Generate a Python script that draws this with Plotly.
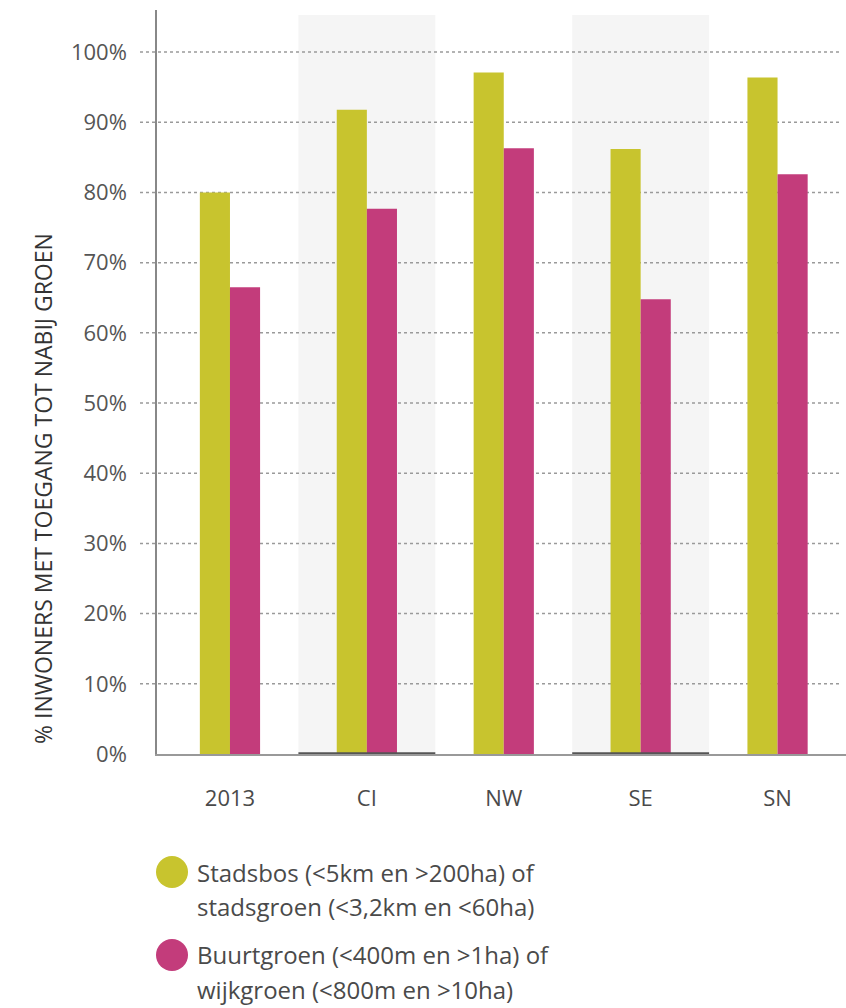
import plotly.graph_objects as go

categories = ["2013", "CI", "NW", "SE", "SN"]
stadsbos = [80.0, 91.8, 97.1, 86.2, 96.4]
buurtgroen = [66.5, 77.7, 86.3, 64.8, 82.6]
y_ticks = [0, 10, 20, 30, 40, 50, 60, 70, 80, 90, 100]
y_tick_labels = [f"{v}%" for v in y_ticks]
shaded = ["CI", "SE"]
legend_lines = {
    "Stadsbos": ["Stadsbos (<5km en >200ha) of", "stadsgroen (<3,2km en <60ha)"],
    "Buurtgroen": ["Buurtgroen (<400m en >1ha) of", "wijkgroen (<800m en >10ha)"],
}
yellow = "#C8C42E"
pink = "#C33C7B"
font = "Open Sans"

W, H = 846, 1008
ml, mr, mt, mb = 157, 0, 10, 254
pw, ph = W - ml - mr, H - mt - mb


def px(x):
    return (x - ml) / pw


def py(y):
    return (H - mb - y) / ph


fig = go.Figure()
fig.add_trace(go.Bar(x=categories, y=stadsbos, marker_color=yellow, name="Stadsbos",
                     marker_line_width=0, showlegend=False))
fig.add_trace(go.Bar(x=categories, y=buurtgroen, marker_color=pink, name="Buurtgroen",
                     marker_line_width=0, showlegend=False))

shapes = []
for c in shaded:
    i = categories.index(c)
    shapes.append(dict(type="rect", xref="x", yref="paper", x0=i - 0.5, x1=i + 0.5,
                       y0=0, y1=py(15), fillcolor="#F5F5F5", line_width=0, layer="below"))
for v in y_ticks[1:]:
    shapes.append(dict(type="line", xref="paper", yref="y", x0=px(140), x1=px(842),
                       y0=v, y1=v, line=dict(color="#9A9A9A", width=1.5, dash="dot"),
                       layer="below"))
for c in shaded:
    i = categories.index(c)
    shapes.append(dict(type="line", xref="x", yref="y", x0=i - 0.5, x1=i + 0.5,
                       y0=0, y1=0, line=dict(color="#555555", width=3.5), layer="above"))

annotations = []
for (key, lines), color, cy in zip(legend_lines.items(), [yellow, pink], [872, 955]):
    shapes.append(dict(type="circle", xref="paper", yref="paper",
                       xsizemode="pixel", ysizemode="pixel",
                       xanchor=px(172), yanchor=py(cy), x0=-16, x1=16, y0=-16, y1=16,
                       fillcolor=color, line_width=0))
    for k, t in enumerate(lines):
        annotations.append(dict(xref="paper", yref="paper", x=px(195), y=py(cy + k * 34),
                                text=t, showarrow=False, xanchor="left", yanchor="middle",
                                font=dict(family=font, size=24, color="#4A4A4A")))

annotations.append(dict(xref="paper", yref="paper", x=px(43), y=py(489),
                        text="% INWONERS MET TOEGANG TOT NABIJ GROEN", textangle=-90,
                        showarrow=False, xanchor="center", yanchor="middle",
                        font=dict(family=font, size=23, color="#333333")))

fig.update_layout(
    width=W, height=H,
    margin=dict(l=ml, r=mr, t=mt, b=mb, pad=0),
    paper_bgcolor="white", plot_bgcolor="white",
    barmode="group", bargap=0.56, bargroupgap=0,
    shapes=shapes, annotations=annotations,
    showlegend=False,
    font=dict(family=font, color="#4A4A4A"),
)
fig.update_xaxes(
    type="category", range=[-0.533, 4.5],
    showline=True, linecolor="#999999", linewidth=1.5,
    showgrid=False, zeroline=False,
    ticks="outside", ticklen=24, tickcolor="rgba(0,0,0,0)",
    tickfont=dict(family=font, size=22, color="#4A4A4A"),
)
fig.update_yaxes(
    range=[0, 106],
    tickvals=y_ticks, ticktext=y_tick_labels,
    showline=True, linecolor="#888888", linewidth=1.5,
    showgrid=False, zeroline=False,
    ticks="outside", ticklen=24, tickcolor="rgba(0,0,0,0)",
    tickfont=dict(family=font, size=22, color="#555555"),
)

fig.write_html("out.html")
